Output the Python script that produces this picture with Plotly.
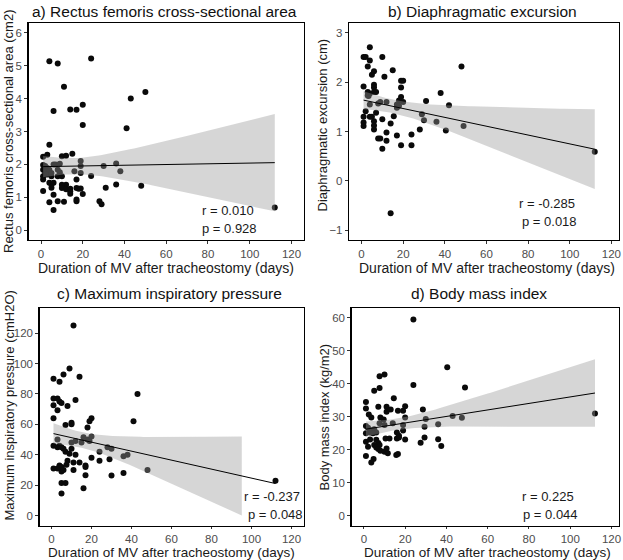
import numpy as np
import plotly.graph_objects as go

# ---------------- data ----------------
# a) Rectus femoris cross-sectional area (cm2)
a_x = [4, 8, 24, 11, 50, 43, 6, 14, 17, 20, 20, 41, 4, 1, 3, 10, 12, 15, 19, 19,
       19, 16, 17, 30, 36, 38, 24, 36, 31, 48, 112, 28, 29, 20, 18, 17, 19, 14, 14, 12,
       11, 10, 10, 12, 14, 6, 4, 6, 8, 11, 17, 17, 1, 1, 1, 1, 1, 2, 3, 3,
       4, 5, 6, 5, 6, 7, 9, 8, 9, 8, 5, 4, 10, 2, 2, 5]
a_y = [5.14, 5.07, 5.22, 4.36, 4.2, 4.0, 3.62, 3.67, 3.66, 3.81, 3.2, 3.1, 2.6, 2.23, 2.29, 2.25, 2.26, 2.32, 2.1, 1.95,
       1.74, 1.79, 1.54, 1.95, 2.03, 1.79, 1.65, 1.39, 1.29, 1.35, 0.69, 0.88, 0.79, 1.1, 1.26, 1.28, 1.27, 1.18, 1.11, 1.38,
       1.31, 1.38, 1.28, 1.24, 1.26, 1.08, 0.85, 0.61, 0.88, 0.86, 0.88, 0.93, 1.19, 1.54, 1.64, 1.84, 1.98, 1.79, 1.89, 1.69,
       1.44, 1.39, 1.44, 1.29, 2.0, 2.0, 2.02, 1.84, 1.76, 1.64, 1.64, 1.84, 1.64, 1.95, 1.69, 1.74]

# b) Diaphragmatic excursion (cm)
b_x = [4, 1, 2, 10, 3, 4, 48, 11, 15, 6, 5, 1, 6, 6, 3, 4, 6, 7, 19, 20,
       19, 19, 3.4, 38, 31, 42, 18, 17, 18, 9, 12, 4, 1, 2, 4, 5, 7, 15.5, 6, 10,
       1, 1, 6, 14, 29, 30, 36, 40.5, 49, 28, 12, 17, 8, 9, 12, 24, 19, 24, 10, 112,
       14, 20, 17, 8, 6, 3]
b_y = [2.71, 2.51, 2.51, 2.51, 2.32, 2.44, 2.32, 2.11, 2.24, 2.22, 2.15, 1.91, 1.95, 1.89, 1.8, 1.77, 1.8, 1.8, 2.03, 2.03,
       1.89, 1.7, 1.72, 1.78, 1.62, 1.53, 1.63, 1.55, 1.52, 1.6, 1.6, 1.55, 1.3, 1.41, 1.3, 1.3, 1.38, 1.31, 1.21, 1.25,
       1.18, 1.11, 1.04, 1.16, 1.35, 1.23, 1.2, 1.02, 1.11, 1.04, 0.98, 0.92, 0.86, 0.86, 0.81, 0.94, 0.72, 0.72, 0.65, 0.59,
       -0.66, 1.6, 1.48, 1.57, 1.12, 1.73]

# c) Maximum inspiratory pressure (cmH2O)
c_x = [11, 9, 14, 1, 6, 4, 43, 1, 3, 4, 5, 1, 3, 12, 8, 41, 1, 7, 10, 10,
       20, 19, 18, 3, 1, 3, 4, 5, 6, 7, 10, 12, 10, 15, 16, 18, 19, 20, 24, 28,
       30, 36, 38, 48, 9, 12, 14, 11, 8, 4, 5, 5, 6, 11, 7.5, 17, 17, 20, 24, 29,
       17, 30, 36, 1, 3, 5, 7, 16, 5, 112]
c_y = [125, 96.7, 91.3, 90, 92.8, 88, 80, 77, 77, 75, 74, 72.6, 69.3, 76, 72, 62, 64, 59.6, 61, 60,
       64, 62, 58, 50, 46, 45, 46, 45, 44, 42, 48, 49, 44, 48, 51.5, 50, 49, 52, 42, 45,
       44, 39, 40, 30, 40.6, 40, 35, 35, 36, 33, 29, 32, 30, 30, 33.5, 33, 32, 38, 36, 37,
       26.5, 26.3, 28, 31, 31, 21.5, 21.5, 18, 14.6, 23]

# d) Body mass index (kg/m2)
d_x = [24, 40.4, 49, 7.6, 10, 24, 5, 7.6, 1, 1, 14.5, 28.6, 11, 7, 2.4, 3.6, 8, 9.6, 16.5, 19,
       20, 20, 11, 13, 30, 43, 47.5, 29.4, 36, 112, 1, 2, 3, 5, 6, 3, 4.4, 1, 7.6, 10,
       14, 19, 19, 16, 17, 1, 3, 6, 7, 7.6, 10.5, 12.4, 16, 17, 20, 27.5, 29.4, 36, 37.5, 2,
       5, 6, 7, 8, 11, 10, 11.6, 15.7, 16.5, 1, 4.7, 3.6]
d_y = [59.5, 45, 38.9, 42.3, 42.8, 39.6, 37.9, 38.7, 34.5, 32.5, 35.6, 32.2, 33, 33, 30.7, 29.8, 29.8, 29.2, 31.8, 31.8,
       33.2, 29.8, 31.5, 32.2, 29.3, 30.2, 29.7, 27, 27.7, 31, 27.2, 26.7, 26, 26.2, 25.2, 25.2, 25, 25, 28, 27.5,
       28, 27.5, 25.8, 25.2, 24.2, 22.4, 23.1, 23, 22, 21.4, 23.4, 23.4, 23.4, 23.7, 23.1, 22.1, 23.7, 23.2, 21.1, 20.9,
       21.4, 20.7, 20.2, 19.7, 20.4, 19.4, 18.9, 18.4, 18.7, 18.1, 17.2, 16.1]

panel_titles = ["a) Rectus femoris cross-sectional area", "b) Diaphragmatic excursion",
                "c) Maximum inspiratory pressure", "d) Body mass index"]
y_titles = ["Rectus femoris cross-sectional area (cm2)", "Diaphragmatic excursion (cm)",
            "Maximum inspiratory pressure (cmH2O)", "Body mass index (kg/m2)"]
x_title = "Duration of MV after tracheostomy (days)"
r_texts = ["r = 0.010", "r = -0.285", "r = -0.237", "r = 0.225"]
p_texts = ["p = 0.928", "p = 0.018", "p = 0.048", "p = 0.044"]
y_limits = [(0, 6), (-1, 3), (0, 130), (0, 60)]
y_dticks = [1, 1, 20, 10]

# ---------------- layout geometry (pixels) ----------------
W, H = 623, 560
boxes = [  # left, right, top, bottom
    (28.5, 304, 23, 240),
    (349, 618.5, 23, 240),
    (39.5, 303.5, 308, 525.5),
    (351.5, 618.5, 308, 525.5),
]
x_ranges = [(-6, 126), (-6, 123.4), (-6, 126), (-6, 123.4)]
x_ticklens = [3, 3, 2, 2]
title_pos = [(165, 11), (482, 11), (169, 293), (479, 293)]
xt_pos = [(166, 267.5), (487, 267.5), (171, 552), (488, 552)]
xt_sizes = [14, 14, 13.5, 13.5]
yt_pos = [(8.5, 131.5), (322.5, 125), (8.5, 406), (323.5, 417)]
r_pos = [(228, 210.5), (547, 203.5), (272, 496.5), (548, 496.5)]
p_pos = [(230, 228.5), (549, 221.5), (275, 514.5), (550, 514.5)]


def tq975(df):
    z = 1.959964
    return z + (z**3 + z) / (4 * df) + (5 * z**5 + 16 * z**3 + 3 * z) / (96 * df**2)


def smooth(xs, ys):
    x = np.asarray(xs, float)
    y = np.asarray(ys, float)
    n = len(x)
    xb = x.mean()
    sxx = ((x - xb) ** 2).sum()
    b = ((x - xb) * (y - y.mean())).sum() / sxx
    a = y.mean() - b * xb
    s = np.sqrt(((y - a - b * x) ** 2).sum() / (n - 2))
    g = np.linspace(x.min(), x.max(), 80)
    f = a + b * g
    se = s * np.sqrt(1 / n + (g - xb) ** 2 / sxx)
    t = tq975(n - 2)
    return g, f, f + t * se, f - t * se


fig = go.Figure()
datasets = [(a_x, a_y), (b_x, b_y), (c_x, c_y), (d_x, d_y)]
FONT = "Liberation Sans, Arial, sans-serif"
annotations = []
layout_axes = {}

for i, (xs, ys) in enumerate(datasets):
    k = "" if i == 0 else str(i + 1)
    xa, ya = "x" + k, "y" + k
    l, r, t, b = boxes[i]
    ylo, yhi = y_limits[i]
    span = yhi - ylo
    common = dict(
        ticks="outside", tickwidth=1, tickcolor="#333333",
        tickfont=dict(family=FONT, size=11.5, color="#4d4d4d"),
        showline=True, linecolor="black", linewidth=1.2, mirror=True,
        showgrid=False, zeroline=False, automargin=False,
    )
    layout_axes["xaxis" + k] = dict(
        domain=[l / W, r / W], anchor=ya, range=list(x_ranges[i]),
        tickmode="linear", tick0=0, dtick=20, ticklen=x_ticklens[i], **common,
    )
    layout_axes["yaxis" + k] = dict(
        domain=[1 - b / H, 1 - t / H], anchor=xa,
        range=[ylo - 0.05 * span, yhi + 0.05 * span],
        tickmode="linear", tick0=0, dtick=y_dticks[i], ticklen=3, **common,
    )
    # points
    fig.add_trace(go.Scatter(
        x=xs, y=ys, mode="markers", xaxis=xa, yaxis=ya,
        marker=dict(color="#0a0a0a", size=6, line=dict(width=0)),
        hoverinfo="skip",
    ))
    # linear fit with 95% CI (censored to the y limits, as in ggplot)
    g, f, up, lo = smooth(xs, ys)
    keep = (lo >= ylo) & (up <= yhi)
    gk, upk, lok = g[keep], up[keep], lo[keep]
    fig.add_trace(go.Scatter(
        x=np.concatenate([gk, gk[::-1]]), y=np.concatenate([upk, lok[::-1]]),
        mode="lines", fill="toself", fillcolor="rgba(153,153,153,0.4)",
        line=dict(width=0), xaxis=xa, yaxis=ya, hoverinfo="skip",
    ))
    fig.add_trace(go.Scatter(
        x=g, y=f, mode="lines", line=dict(color="black", width=1),
        xaxis=xa, yaxis=ya, hoverinfo="skip",
    ))
    # texts
    tx, ty = title_pos[i]
    annotations.append(dict(text=panel_titles[i], x=tx / W, y=1 - ty / H, xref="paper", yref="paper",
                            showarrow=False, xanchor="center", yanchor="middle",
                            font=dict(family=FONT, size=15.5, color="#111111")))
    px_, py_ = xt_pos[i]
    annotations.append(dict(text=x_title, x=px_ / W, y=1 - py_ / H, xref="paper", yref="paper",
                            showarrow=False, xanchor="center", yanchor="middle",
                            font=dict(family=FONT, size=xt_sizes[i], color="#1a1a1a")))
    px_, py_ = yt_pos[i]
    annotations.append(dict(text=y_titles[i], x=px_ / W, y=1 - py_ / H, xref="paper", yref="paper",
                            showarrow=False, xanchor="center", yanchor="middle", textangle=-90,
                            font=dict(family=FONT, size=13, color="#1a1a1a")))
    for txt, (qx, qy) in ((r_texts[i], r_pos[i]), (p_texts[i], p_pos[i])):
        annotations.append(dict(text=txt, x=qx / W, y=1 - qy / H, xref="paper", yref="paper",
                                showarrow=False, xanchor="center", yanchor="middle",
                                font=dict(family=FONT, size=13, color="#1a1a1a")))

fig.update_layout(
    template="none",
    width=W, height=H, margin=dict(l=0, r=0, t=0, b=0, pad=0),
    paper_bgcolor="white", plot_bgcolor="white", showlegend=False,
    annotations=annotations, **layout_axes,
)

# the page's default 8px body margin would shift the figure; remove it
fig.write_html("out.html", config={"displayModeBar": False, "staticPlot": True},
               post_script="document.body.style.margin='0';document.body.style.overflow='hidden';")
